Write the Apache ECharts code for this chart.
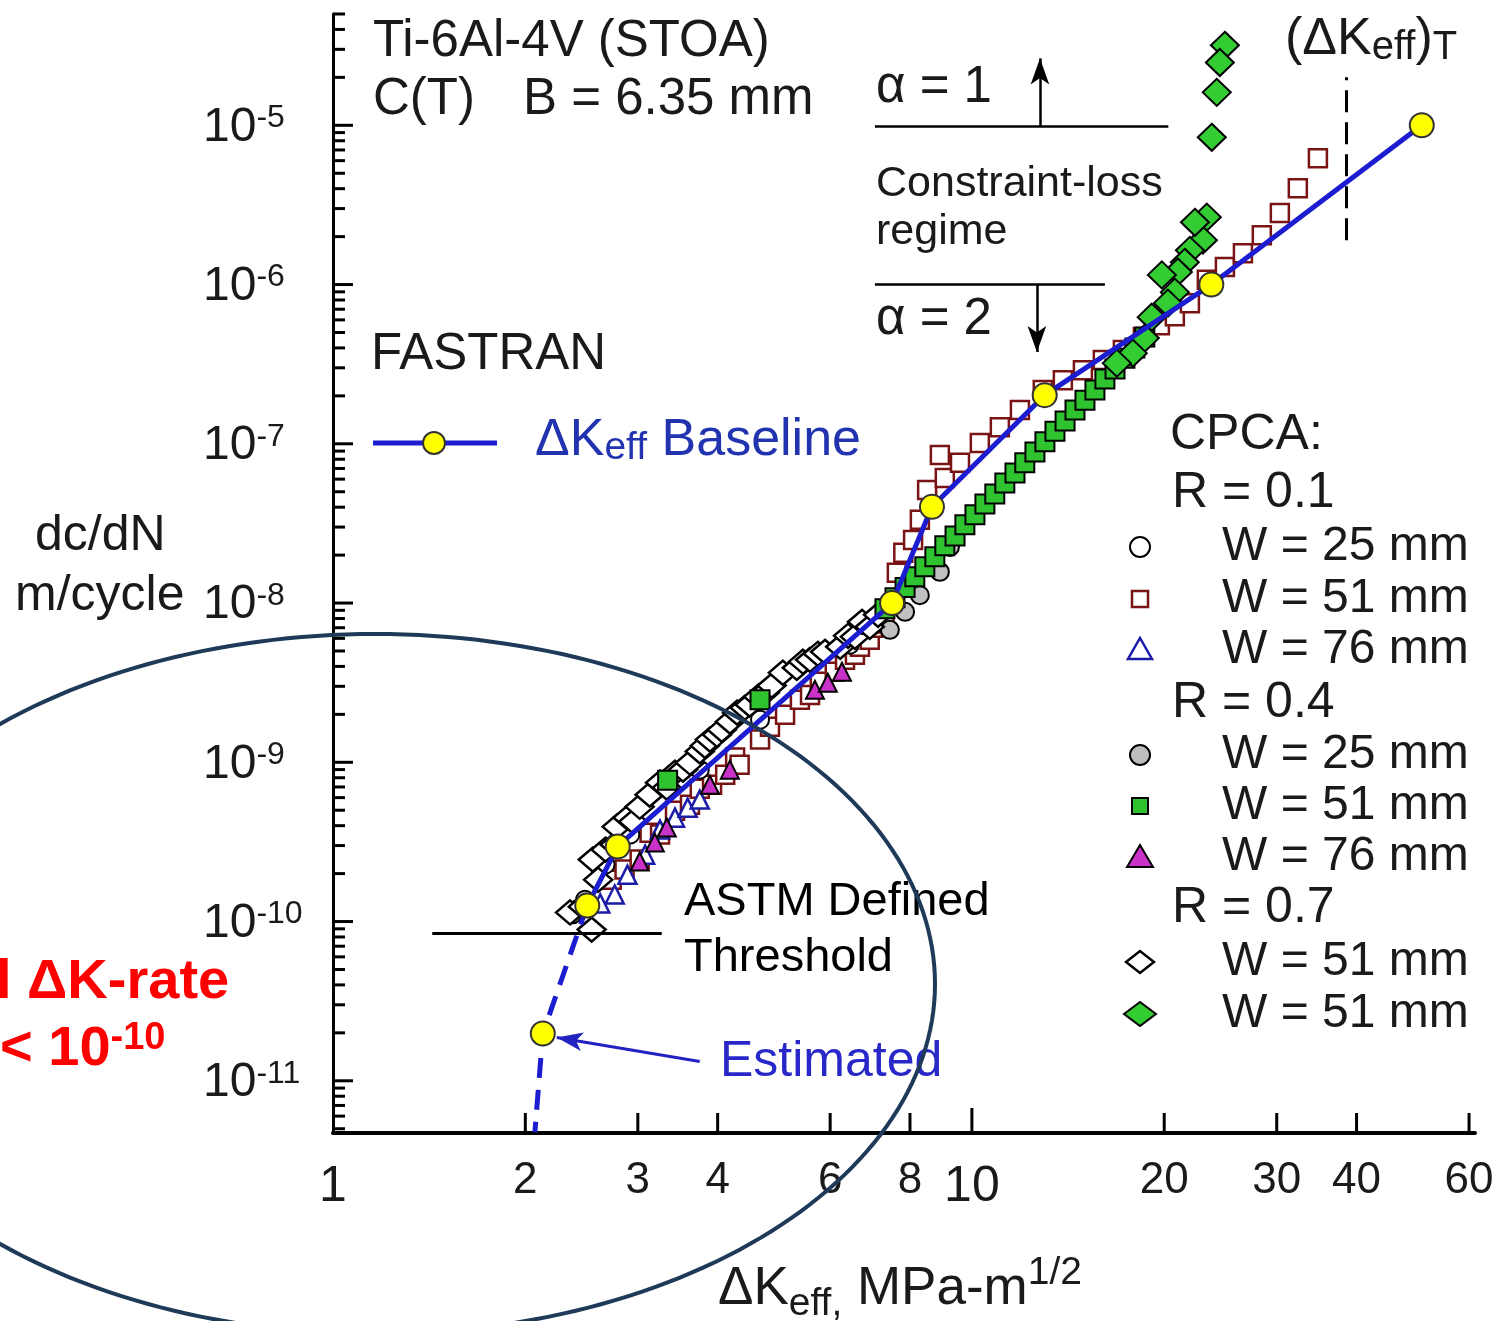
<!DOCTYPE html>
<html><head><meta charset="utf-8">
<script src="https://cdn.jsdelivr.net/npm/echarts@6/dist/echarts.min.js"></script>
<style>html,body{margin:0;padding:0;background:#fff}#c{width:1500px;height:1321px}</style>
</head><body><div id="c"></div><script>
// ---------------- DATA ----------------
const baselineK    = [2.50, 2.79, 7.50, 8.66, 13.0, 23.7, 50.6];
const baselineRate = [1.26e-10, 2.96e-10, 1.0e-8, 4.02e-8, 2.02e-7, 1.0e-6, 1.0e-5];
const estimatedK    = [2.50, 2.13, 2.07];
const estimatedRate = [1.26e-10, 1.98e-11, 4.75e-12];

const r01w25 = [[2.42,1.2e-10],[2.67,2.28e-10],[2.92,3.52e-10],[3.75,8.99e-10],[4.66,1.85e-9],[6.44,5.47e-9]];
const r01w51 = [[2.73,1.83e-10],[2.86,2.12e-10],[3.02,2.45e-10],[3.13,3.61e-10],[3.25,3.52e-10],[3.43,4.97e-10],
  [3.62,5.42e-10],[3.75,6.83e-10],[3.92,7.23e-10],[4.11,8.36e-10],[4.26,1.07e-9],[4.33,9.66e-10],[4.66,1.39e-9],
  [4.83,1.67e-9],[5.10,1.99e-9],[5.38,2.47e-9],[5.58,2.65e-9],[5.78,3.21e-9],[6.10,3.70e-9],[6.33,4.40e-9],
  [6.56,4.73e-9],[6.68,5.31e-9],[6.92,5.88e-9],[7.0,7.0e-9],[7.18,7.43e-9],[7.3,8.5e-9],[7.63,1.55e-8],[7.81,2.07e-8],
  [8.09,2.49e-8],[8.29,3.33e-8],[8.51,5.13e-8],[8.91,8.51e-8],[9.07,6.10e-8],[9.58,7.59e-8],[10.29,1.01e-7],
  [11.06,1.27e-7],[11.89,1.63e-7],[12.91,2.18e-7],[13.88,2.51e-7],[14.92,2.90e-7],[16.03,3.36e-7],[17.23,3.88e-7],
  [18.52,4.68e-7],[19.69,5.56e-7],[20.78,6.33e-7],[21.94,7.64e-7],[23.32,1.07e-6],[24.89,1.29e-6],[26.56,1.57e-6],
  [28.43,2.04e-6],[30.34,2.81e-6],[32.37,4.03e-6],[34.80,6.21e-6]];
const r01w76 = [[2.62,1.3e-10],[2.76,1.48e-10],[2.89,1.97e-10],[3.08,2.63e-10],[3.25,3.78e-10],[3.43,4.49e-10],[3.59,5.19e-10],[3.75,5.83e-10]];
const r04w25 = [[2.37,1.11e-10],[2.48,1.37e-10],[7.44,6.79e-9],[7.86,8.81e-9],[8.29,1.12e-8],[8.91,1.57e-8],[9.24,2.25e-8]];
const r04w51 = [[3.34,7.7e-10],[4.66,2.47e-9],[7.31,9.20e-9],[7.58,1.08e-8],[7.86,1.25e-8],[8.14,1.46e-8],[8.44,1.69e-8],
  [8.75,1.95e-8],[9.07,2.29e-8],[9.41,2.64e-8],[9.75,3.10e-8],[10.11,3.58e-8],[10.48,4.19e-8],[10.86,4.84e-8],
  [11.26,5.68e-8],[11.68,6.56e-8],[12.10,7.59e-8],[12.55,8.89e-8],[13.01,1.03e-7],[13.49,1.20e-7],[13.99,1.39e-7],
  [14.50,1.63e-7],[15.03,1.88e-7],[15.58,2.18e-7],[16.15,2.55e-7],[16.75,2.95e-7],[17.36,3.45e-7],[17.99,3.99e-7],[18.65,4.68e-7]];
const r04w76 = [[3.02,2.38e-10],[3.19,3.13e-10],[3.33,3.89e-10],[3.89,7.23e-10],[4.18,8.99e-10],[5.68,2.85e-9],[5.95,3.16e-9],[6.26,3.70e-9]];
const r07w51open = [[2.35,1.14e-10],[2.46,1.24e-10],[2.54,8.9e-11],[2.55,2.45e-10],[2.60,1.83e-10],[2.67,2.83e-10],
  [2.76,3.04e-10],[2.78,3.94e-10],[2.89,4.49e-10],[2.95,4.24e-10],[3.02,5.26e-10],[3.13,6.26e-10],[3.25,7.45e-10],
  [3.33,6.93e-10],[3.43,8.6e-10],[3.53,8.99e-10],[3.62,9.94e-10],[3.75,1.17e-9],[3.82,1.27e-9],[3.89,1.39e-9],
  [3.99,1.49e-9],[4.06,1.6e-9],[4.18,1.80e-9],[4.29,2.05e-9],[4.41,2.20e-9],[4.49,2.30e-9],[4.63,2.58e-9],
  [4.74,2.73e-9],[4.86,3.03e-9],[5.06,3.65e-9],[5.32,3.92e-9],[5.44,4.28e-9],[5.58,4.40e-9],[5.74,4.80e-9],
  [5.89,4.94e-9],[6.22,5.31e-9],[6.40,6.23e-9],[6.56,6.14e-9],[6.73,7.62e-9],[6.92,7.09e-9],[7.13,8.43e-9]];
const r07w51filled = [[24.89,3.18e-5],[24.44,2.48e-5],[24.17,1.61e-5],[23.74,8.41e-6],[23.32,2.65e-6],[22.99,1.90e-6],
  [22.34,2.46e-6],[21.94,1.64e-6],[21.54,1.38e-6],[21.01,1.20e-6],[19.83,1.15e-6],[20.78,8.96e-7],[20.27,7.64e-7],
  [19.12,6.24e-7],[18.65,4.61e-7],[17.86,3.71e-7],[16.86,3.21e-7]];

// axis ticks / labels
const yDecades = [-12,-11,-10,-9,-8,-7,-6,-5];
const yMultipliers = [1,2,3,4,5,6,7,8,9];
const xTickValues = [2,3,4,6,8,10,20,30,40,60];
const xLabelValues = [1,2,3,4,6,8,10,20,30,40,60];

// annotation line endpoints (data coords)
const astmLine = [[1.43,8.5e-11],[3.27,8.5e-11]];
const alpha1Line = [[7.05,9.86e-6],[20.3,9.86e-6]];
const alpha1Arrow = [[12.78,9.86e-6],[12.78,2.63e-5]];
const alpha2Line = [[7.05,1.0e-6],[16.15,1.0e-6]];
const alpha2Arrow = [[12.64,1.0e-6],[12.64,3.77e-7]];
const dKTLine = [[38.6,1.9e-6],[38.6,2.0e-5]];
const estArrow = [[3.75,1.32e-11],[2.24,1.87e-11]];

// ---------------- CHART ----------------
const yMin = 4.7e-12, yMax = 5e-5, xMin = 1, xMax = 61.3;
const FF = '"Liberation Sans", Arial, Helvetica, sans-serif';
const chart = echarts.init(document.getElementById('c'), null, {renderer:'canvas'});

const yTickData = [];
yDecades.forEach(d => yMultipliers.forEach(m => {
  const v = m * Math.pow(10, d);
  if (v >= yMin * 0.999 && v <= yMax * 1.001) yTickData.push([xMin, v, m === 1 ? 1 : 0, d]);
}));
const xTickData = xLabelValues.map(v => [v, yMin, xTickValues.indexOf(v) >= 0 ? 1 : 0]);

function tx(x, y, text, size, color, weight) {
  return {type:'text', x:x, y:y, z:90, style:{text:text, fill:color || '#1a1a1a',
    font: (weight ? weight + ' ' : '') + size + 'px ' + FF, align:'left', verticalAlign:'middle',
    textAlign:'left', textVerticalAlign:'middle'}};
}
function tok(size, color, lh, va, weight) {
  return {fontSize:size, fontFamily:FF, fill:color, color:color, lineHeight:lh, verticalAlign:va, fontWeight:weight || 'normal'};
}
function rtx(x, y, text, rich) {
  return {type:'text', x:x, y:y, z:90, style:{text:text, align:'left', verticalAlign:'middle',
    textAlign:'left', textVerticalAlign:'middle', rich:rich}};
}

function ml(pts, style, endSymbol) {
  return [{coord:pts[0], symbol:'none', lineStyle:style},
          {coord:pts[1], symbol:endSymbol || 'none', symbolSize:[14,26]}];
}

const ellipsePts = [];
for (let i = 0; i <= 240; i++) {
  const a = i / 240 * Math.PI * 2;
  ellipsePts.push([375 + 560 * Math.cos(a), 984 + 350 * Math.sin(a)]);
}

const blue = '#1c1cd0';

const graphics = [
  {type:'polygon', z:100, shape:{points:ellipsePts}, style:{fill:'none', stroke:'#1f3a58', lineWidth:4}},
  tx(373, 42, 'Ti-6Al-4V (STOA)', 51),
  tx(373, 100, 'C(T)', 51),
  tx(523, 100, 'B = 6.35 mm', 51),
  tx(371, 355, 'FASTRAN', 51),
  {type:'line', z:90, shape:{x1:373, y1:443, x2:497, y2:443}, style:{stroke:blue, lineWidth:5}},
  {type:'circle', z:91, shape:{cx:434, cy:443, r:11}, style:{fill:'#ffff00', stroke:'#333', lineWidth:2}},
  rtx(535, 441, '{a|ΔK}{s|eff}{a| Baseline}', {a:tok(52,'#2233b0',54,'middle'), s:tok(39,'#2233b0',26,'bottom')}),
  tx(876, 88, 'α = 1', 51),
  tx(876, 184, 'Constraint-loss', 43),
  tx(876, 232, 'regime', 43),
  tx(876, 320, 'α = 2', 51),
  rtx(1285, 40, '{a|(ΔK}{s|eff}{a|)}{s|T}', {a:tok(52,'#1a1a1a',56,'middle'), s:tok(40,'#1a1a1a',28,'bottom')}),
  tx(1170, 435, 'CPCA:', 50),
  tx(1172, 493, 'R = 0.1', 50),
  tx(1222, 547, 'W = 25 mm', 48),
  tx(1222, 599, 'W = 51 mm', 48),
  tx(1222, 650, 'W = 76 mm', 48),
  tx(1172, 703, 'R = 0.4', 50),
  tx(1222, 755, 'W = 25 mm', 48),
  tx(1222, 806, 'W = 51 mm', 48),
  tx(1222, 857, 'W = 76 mm', 48),
  tx(1172, 908, 'R = 0.7', 50),
  tx(1222, 962, 'W = 51 mm', 48),
  tx(1222, 1014, 'W = 51 mm', 48),
  // legend symbols
  {type:'circle', z:90, shape:{cx:1140, cy:547, r:10}, style:{fill:'#fff', stroke:'#000', lineWidth:2}},
  {type:'rect', z:90, shape:{x:1132, y:591, width:16, height:16}, style:{fill:'#fff', stroke:'#7a1414', lineWidth:2.5}},
  {type:'polygon', z:90, shape:{points:[[1140,638],[1152,659],[1128,659]]}, style:{fill:'#fff', stroke:'#1c1ca8', lineWidth:2.5}},
  {type:'circle', z:90, shape:{cx:1140, cy:755, r:10}, style:{fill:'#bdbdbd', stroke:'#000', lineWidth:2}},
  {type:'rect', z:90, shape:{x:1132, y:798, width:16, height:16}, style:{fill:'#2fc42f', stroke:'#000', lineWidth:2}},
  {type:'polygon', z:90, shape:{points:[[1140,845],[1153,867],[1127,867]]}, style:{fill:'#c832c8', stroke:'#000', lineWidth:2}},
  {type:'polygon', z:90, shape:{points:[[1126,962],[1140,951],[1154,962],[1140,973]]}, style:{fill:'#fff', stroke:'#000', lineWidth:2.5}},
  {type:'polygon', z:90, shape:{points:[[1124,1014],[1140,1002],[1156,1014],[1140,1026]]}, style:{fill:'#33cc33', stroke:'#000', lineWidth:2}},
  tx(684, 902, 'ASTM Defined', 47, '#000'),
  tx(684, 958, 'Threshold', 47, '#000'),
  tx(720, 1062, 'Estimated', 50, '#2828c8'),
  tx(35, 536, 'dc/dN', 50),
  tx(15, 596, 'm/cycle', 50),
  rtx(718, 1289, '{a|ΔK}{s|eff,}{a| MPa-m}{p|1/2}',
    {a:tok(53,'#1a1a1a',70,'middle'), s:tok(39,'#1a1a1a',42,'bottom'), p:tok(39,'#1a1a1a',22,'top')}),
  tx(-4, 983, 'l ΔK-rate', 56, '#ff0000', 'bold'),
  rtx(0, 1050, '{a|< 10}{p|-10}', {a:tok(56,'#ff0000',60,'middle','bold'), p:tok(38,'#ff0000',34,'top','bold')})
];

const option = {
  animation: false,
  backgroundColor: '#fff',
  grid: {left:333, top:14, right:25, bottom:188, containLabel:false},
  xAxis: {type:'log', logBase:10, min:xMin, max:xMax,
    axisLine:{show:true, onZero:false, lineStyle:{color:'#000', width:4}},
    axisTick:{show:false}, axisLabel:{show:false}, splitLine:{show:false}, minorTick:{show:false}},
  yAxis: {type:'log', logBase:10, min:yMin, max:yMax,
    axisLine:{show:true, onZero:false, lineStyle:{color:'#000', width:3}},
    axisTick:{show:false}, axisLabel:{show:false}, splitLine:{show:false}, minorTick:{show:false}},
  graphic: graphics,
  series: [
    {name:'yTicks', type:'custom', coordinateSystem:'cartesian2d', clip:false, silent:true, z:30,
      data: yTickData,
      renderItem: function(params, api) {
        const p = api.coord([api.value(0), api.value(1)]);
        const major = api.value(2) === 1;
        const ch = [{type:'line', shape:{x1:p[0], y1:p[1], x2:p[0] + (major ? 20 : 12), y2:p[1]},
          style:{stroke:'#000', lineWidth:3}}];
        if (major) {
          ch.push({type:'text', x:p[0] - 130, y:p[1] + 2, style:{text:'{b|10}{s|' + api.value(3) + '}',
            align:'left', verticalAlign:'middle', textAlign:'left', textVerticalAlign:'middle',
            rich:{b:tok(48,'#1a1a1a',50,'middle'), s:tok(32,'#1a1a1a',22,'top')}}});
        }
        return {type:'group', children:ch};
      }},
    {name:'xTicks', type:'custom', coordinateSystem:'cartesian2d', clip:false, silent:true, z:30,
      data: xTickData,
      renderItem: function(params, api) {
        const v = api.value(0);
        const p = api.coord([v, api.value(1)]);
        const big = (v === 1 || v === 10);
        const ch = [];
        if (api.value(2) === 1) ch.push({type:'line', shape:{x1:p[0], y1:p[1], x2:p[0], y2:p[1] - (v === 10 ? 25 : 20)},
          style:{stroke:'#000', lineWidth:3}});
        ch.push({type:'text', x:p[0], y:p[1] + (big ? 54 : 48), style:{text:String(v),
          font:(big ? 50 : 44) + 'px ' + FF, fill:'#1a1a1a', align:'center', verticalAlign:'middle',
          textAlign:'center', textVerticalAlign:'middle'}});
        return {type:'group', children:ch};
      }},
    {name:'R=0.1 W=51', type:'scatter', data:r01w51, symbol:'rect', symbolSize:18, z:3,
      itemStyle:{color:'#fff', borderColor:'#7a1414', borderWidth:2.5, opacity:1}},
    {name:'R=0.1 W=76', type:'scatter', data:r01w76, symbol:'triangle', symbolSize:18, z:3,
      itemStyle:{color:'#fff', borderColor:'#1c1ca8', borderWidth:2.5, opacity:1}},
    {name:'R=0.4 W=76', type:'scatter', data:r04w76, symbol:'triangle', symbolSize:18, z:3,
      itemStyle:{color:'#c832c8', borderColor:'#000', borderWidth:2, opacity:1}},
    {name:'R=0.1 W=25', type:'scatter', data:r01w25, symbol:'circle', symbolSize:18, z:3,
      itemStyle:{color:'#fff', borderColor:'#000', borderWidth:2, opacity:1}},
    {name:'R=0.4 W=25', type:'scatter', data:r04w25, symbol:'circle', symbolSize:18, z:3,
      itemStyle:{color:'#c0c0c0', borderColor:'#000', borderWidth:2, opacity:1}},
    {name:'R=0.7 W=51 open', type:'scatter', data:r07w51open, symbol:'diamond', symbolSize:[28,24], z:4,
      itemStyle:{color:'#fff', borderColor:'#000', borderWidth:2.5, opacity:1}},
    {name:'R=0.4 W=51', type:'scatter', data:r04w51, symbol:'rect', symbolSize:19, z:5,
      itemStyle:{color:'#2fc42f', borderColor:'#000', borderWidth:2, opacity:1}},
    {name:'R=0.7 W=51 filled', type:'scatter', data:r07w51filled, symbol:'diamond', symbolSize:[28,27], z:5,
      itemStyle:{color:'#33cc33', borderColor:'#000', borderWidth:2, opacity:1}},
    {name:'Estimated', type:'line', z:8, symbol:'circle', symbolSize:24, showSymbol:true,
      data: estimatedK.map((k, i) => ({value:[k, estimatedRate[i]], symbol: i === 1 ? 'circle' : 'none'})),
      lineStyle:{color:blue, width:5, type:[20,12]},
      itemStyle:{color:'#ffff00', borderColor:'#333', borderWidth:2}},
    {name:'ΔKeff Baseline', type:'line', z:9, symbol:'circle', symbolSize:24, showSymbol:true,
      data: baselineK.map((k, i) => [k, baselineRate[i]]),
      lineStyle:{color:blue, width:5},
      itemStyle:{color:'#ffff00', borderColor:'#333', borderWidth:2},
      markLine:{silent:true, animation:false, symbol:['none','none'], label:{show:false},
        emphasis:{disabled:true},
        data:[
          ml(astmLine, {color:'#000', width:3, type:'solid'}),
          ml(alpha1Line, {color:'#000', width:2.5, type:'solid'}),
          ml(alpha1Arrow, {color:'#000', width:2.5, type:'solid'}, 'arrow'),
          ml(alpha2Line, {color:'#000', width:2.5, type:'solid'}),
          ml(alpha2Arrow, {color:'#000', width:2.5, type:'solid'}, 'arrow'),
          ml(dKTLine, {color:'#000', width:3, type:[22,10]}),
          ml(estArrow, {color:'#2222c0', width:3, type:'solid'}, 'arrow')
        ]}}
  ]
};
chart.setOption(option);
</script></body></html>
